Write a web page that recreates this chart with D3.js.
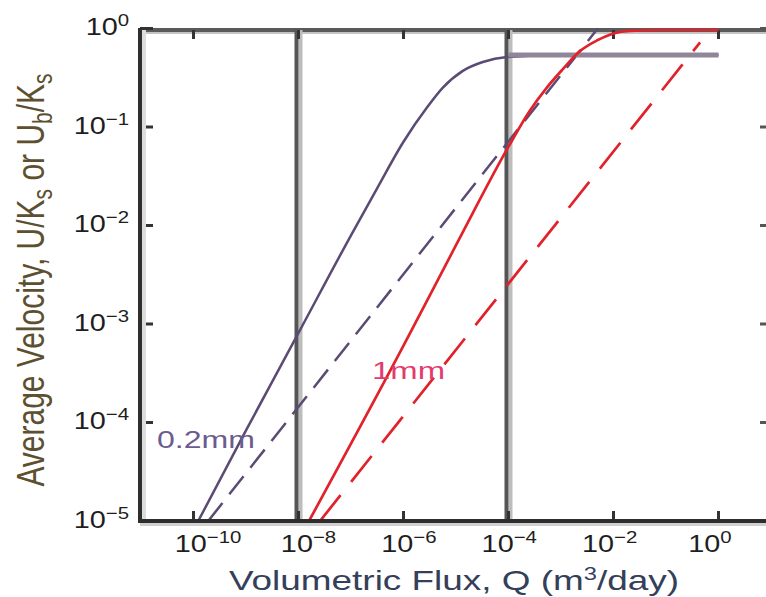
<!DOCTYPE html>
<html lang="en">
<head>
<meta charset="UTF-8">
<title>Average Velocity vs Volumetric Flux</title>
<script src="https://cdnjs.cloudflare.com/ajax/libs/d3/7.8.5/d3.min.js"></script>
<style>
  body { margin: 0; background: #fff; }
  svg text { font-family: "Liberation Sans", Arial, Helvetica, sans-serif; }
</style>
</head>
<body>
<div id="chart"></div>
<script>
// curves, as [log10 Q, log10 U/Ks]
const solid02 = [[-9.91, -5], [-9, -4.08], [-8, -3.09], [-7, -2.1], [-6.5, -1.62], [-6, -1.15],
                 [-5.55, -0.8], [-5.25, -0.6], [-4.87, -0.43], [-4.49, -0.34], [-4.03, -0.29],
                 [-3, -0.27], [0, -0.27]];
const dashed02 = [[-9.72, -5], [-2.3, 0]];
const plateau02 = [[-4, -0.27], [0, -0.27]];
const solid1 = [[-7.8, -5], [-6, -3.22], [-5, -2.2], [-4, -1.2], [-3.6, -0.84], [-3.27, -0.6],
                [-2.96, -0.41], [-2.64, -0.23], [-2.31, -0.12], [-2.0, -0.05], [-1.69, -0.025],
                [-1, -0.015], [0, -0.015]];
const dashed1 = [[-7.59, -5], [-0.35, -0.14]];

const refLines = [-8, -4];               // grey vertical lines
const xTicks = [-10, -8, -6, -4, -2, 0];
const yTicks = [0, -1, -2, -3, -4, -5];

const width = 766, height = 597;
const pLeft = 140, pTop = 30, pRight = 771, pBottom = 521;

const svg = d3.select("#chart").append("svg")
    .attr("width", width)
    .attr("height", height)
    .style("display", "block");

const x = d3.scaleLog().domain([1e-11, 1e1]).range([141, 771]);
const y = d3.scaleLog().domain([1e-5, 1]).range([521, 28.5]);
// the tick labels sit slightly compressed relative to the ticks
const xLab = d3.scaleLinear().domain([-8, 0]).range([308.5, 710]);

const px = d => x(Math.pow(10, d[0]));
const py = d => y(Math.pow(10, d[1]));

svg.append("defs").append("clipPath").attr("id", "plot")
    .append("rect")
    .attr("x", pLeft).attr("y", 27)
    .attr("width", pRight - pLeft).attr("height", pBottom - 27);

// top border
svg.append("line")
    .attr("x1", pLeft).attr("x2", pRight).attr("y1", 33).attr("y2", 33)
    .attr("stroke", "#c4c4c4").attr("stroke-width", 2);
svg.append("line")
    .attr("x1", pLeft).attr("x2", pRight).attr("y1", pTop).attr("y2", pTop)
    .attr("stroke", "#5a5a5a").attr("stroke-width", 4);

// vertical reference lines
refLines.forEach(e => {
    const xx = x(Math.pow(10, e));
    svg.append("line")
        .attr("x1", xx + 2).attr("x2", xx + 2).attr("y1", pTop).attr("y2", pBottom)
        .attr("stroke", "#bdbdbd").attr("stroke-width", 4);
    svg.append("line")
        .attr("x1", xx - 2).attr("x2", xx - 2).attr("y1", pTop).attr("y2", pBottom)
        .attr("stroke", "#555").attr("stroke-width", 4);
});

// ticks
xTicks.forEach(e => {
    const xx = x(Math.pow(10, e));
    svg.append("line").attr("x1", xx).attr("x2", xx).attr("y1", pBottom).attr("y2", pBottom - 10)
        .attr("stroke", "#333").attr("stroke-width", 3);
    svg.append("line").attr("x1", xx).attr("x2", xx).attr("y1", pTop).attr("y2", pTop + 9)
        .attr("stroke", "#333").attr("stroke-width", 3);
});
yTicks.forEach(e => {
    const yy = y(Math.pow(10, e));
    svg.append("line").attr("x1", pLeft).attr("x2", pLeft + 13).attr("y1", yy).attr("y2", yy)
        .attr("stroke", "#333").attr("stroke-width", 3);
    svg.append("line").attr("x1", pRight).attr("x2", pRight - 11).attr("y1", yy).attr("y2", yy)
        .attr("stroke", "#555").attr("stroke-width", 3);
});

// curves
const line = d3.line().x(px).y(py);
const smooth = d3.line().x(px).y(py).curve(d3.curveMonotoneX);
const g = svg.append("g").attr("clip-path", "url(#plot)");

g.append("path").datum(dashed02)
    .attr("fill", "none").attr("stroke", "#5b4b74").attr("stroke-width", 2.5)
    .attr("stroke-dasharray", "23,11").attr("d", line);
g.append("path").datum(solid02)
    .attr("fill", "none").attr("stroke", "#5b4b74").attr("stroke-width", 2.5)
    .attr("d", smooth);
g.append("path").datum(plateau02)
    .attr("fill", "none").attr("stroke", "#918699").attr("stroke-width", 5)
    .attr("d", line);
g.append("path").datum(dashed1)
    .attr("fill", "none").attr("stroke", "#e1222b").attr("stroke-width", 2.7)
    .attr("stroke-dasharray", "33,17").attr("d", line);
g.append("path").datum(solid1)
    .attr("fill", "none").attr("stroke", "#e1222b").attr("stroke-width", 2.7)
    .attr("d", smooth);

// left and bottom axes
svg.append("line").attr("x1", pLeft + 4).attr("x2", pLeft + 4).attr("y1", pTop).attr("y2", pBottom)
    .attr("stroke", "#dcdcdc").attr("stroke-width", 4);
svg.append("line").attr("x1", pLeft).attr("x2", pLeft).attr("y1", 28).attr("y2", pBottom + 2)
    .attr("stroke", "#2e2e2e").attr("stroke-width", 4);
svg.append("line").attr("x1", pLeft).attr("x2", pRight).attr("y1", pBottom + 3.5).attr("y2", pBottom + 3.5)
    .attr("stroke", "#d0d0d0").attr("stroke-width", 3);
svg.append("line").attr("x1", pLeft - 2).attr("x2", pRight).attr("y1", pBottom).attr("y2", pBottom)
    .attr("stroke", "#2e2e2e").attr("stroke-width", 4);

// tick labels
xTicks.forEach(e => {
    const t = svg.append("text")
        .attr("transform", `translate(${xLab(e)},552) scale(1.2,1)`)
        .attr("text-anchor", "middle")
        .attr("fill", "#1e1e1e")
        .style("font-size", "24px");
    t.append("tspan").text("10");
    t.append("tspan").attr("dy", -9).style("font-size", "17px").text(e === 0 ? "0" : "\u2212" + (-e));
});
yTicks.forEach(e => {
    const yy = y(Math.pow(10, e));
    const t = svg.append("text")
        .attr("transform", `translate(129,${yy + 6.5}) scale(1.2,1)`)
        .attr("text-anchor", "end")
        .attr("fill", "#1e1e1e")
        .style("font-size", "24px");
    t.append("tspan").text("10");
    t.append("tspan").attr("dy", -9).style("font-size", "17px").text(e === 0 ? "0" : "\u2212" + (-e));
});

// axis titles
const xt = svg.append("text")
    .attr("x", 454).attr("y", 590)
    .attr("text-anchor", "middle")
    .attr("fill", "#34405a")
    .attr("textLength", 450).attr("lengthAdjust", "spacingAndGlyphs")
    .style("font-size", "28px");
xt.append("tspan").text("Volumetric Flux, Q (m");
xt.append("tspan").attr("dy", -10).style("font-size", "18px").text("3");
xt.append("tspan").attr("dy", 10).text("/day)");

const yt = svg.append("text")
    .attr("transform", "translate(44,280) scale(1.28,1) rotate(-90)")
    .attr("text-anchor", "middle")
    .attr("fill", "#5c5030")
    .style("font-size", "30px");
yt.append("tspan").text("Average Velocity, U/K");
yt.append("tspan").attr("dy", 6).style("font-size", "21px").text("s");
yt.append("tspan").attr("dy", -6).text(" or U");
yt.append("tspan").attr("dy", 6).style("font-size", "21px").text("b");
yt.append("tspan").attr("dy", -6).text("/K");
yt.append("tspan").attr("dy", 6).style("font-size", "21px").text("s");

// curve labels
svg.append("text")
    .attr("x", 157).attr("y", 448)
    .attr("fill", "#6b5b8e")
    .attr("textLength", 98).attr("lengthAdjust", "spacingAndGlyphs")
    .style("font-size", "24px")
    .text("0.2mm");
svg.append("text")
    .attr("x", 372).attr("y", 379)
    .attr("fill", "#e23c6e")
    .attr("textLength", 73).attr("lengthAdjust", "spacingAndGlyphs")
    .style("font-size", "24px")
    .text("1mm");
</script>
</body>
</html>
